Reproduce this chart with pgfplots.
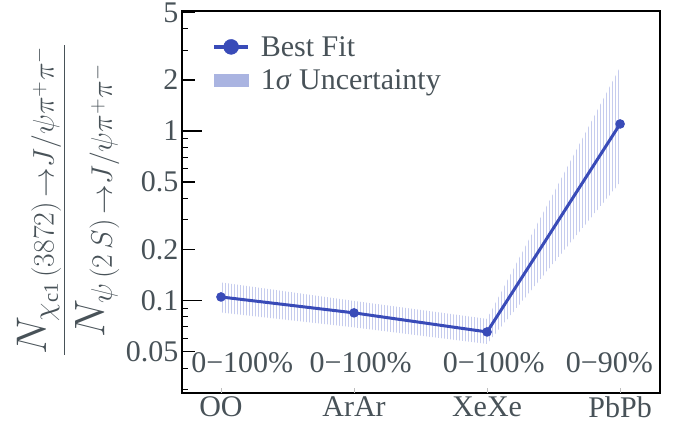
\documentclass[border=0pt]{standalone}
\usepackage{fontspec}
\setmainfont{Liberation Serif}
\usepackage{pgfplots}
\pgfplotsset{compat=1.18}
\usetikzlibrary{patterns}
\DeclareMathSizes{24.88}{24.88}{16.5}{12}
\definecolor{fitc}{RGB}{57,75,184}
\definecolor{bandc}{RGB}{198,204,238}
\definecolor{bandleg}{RGB}{170,180,225}
\definecolor{txt}{RGB}{72,82,88}
\begin{document}
\begin{tikzpicture}
\begin{axis}[
  scale only axis, width=478pt, height=382pt,
  ymode=log, ymin=0.0285, ymax=5.1,
  xmin=-0.293, xmax=3.30,
  xtick=\empty,
  extra x ticks={0,1,2,3},
  extra x tick labels={OO,ArAr,XeXe,PbPb},
  extra x tick style={major tick length=5pt, tick style={draw=gray!50, line width=0.6pt}},
  ytick={0.05,0.2,0.5,2,5},
  yticklabels={0.05,0.2,0.5,2,5},
  extra y ticks={0.1,1},
  extra y tick labels={0.1,1},
  extra y tick style={major tick length=20pt},
  minor ytick={0.03,0.04,0.06,0.07,0.08,0.09,0.3,0.4,0.6,0.7,0.8,0.9,3,4},
  major tick length=13pt, minor tick length=6pt,
  tick align=inside, ytick pos=left, xtick pos=bottom,
  tick style={black, line width=1.2pt},
  minor tick style={line width=1pt},
  axis line style={line width=1.3pt},
  tick label style={text=txt, font=\fontsize{30}{34}\selectfont},
  /pgf/number format/assume math mode=true,
  clip=false,
  legend style={draw=none, fill=none, at={(axis description cs:0.059,0.945)}, anchor=north west,
    font=\fontsize{30}{35}\selectfont, text=txt, row sep=8pt, inner sep=2pt,
    /tikz/every odd column/.append style={column sep=9pt}},
  legend cell align=left,
]
\addplot[draw=none, pattern=vertical lines, pattern color=bandc, forget plot]
  coordinates {(0,0.128) (1,0.0995) (2,0.078) (3,2.38) (3,0.497) (2,0.0555) (1,0.0695) (0,0.085)} -- cycle;
\addplot[fitc, line width=3pt, mark=*, mark size=3.2pt, forget plot]
  coordinates {(0,0.105) (1,0.0846) (2,0.0653) (3,1.10)};
\addlegendimage{legend image code/.code={\draw[fitc, line width=3.5pt] (0pt,0pt) -- (34pt,0pt); \fill[fitc] (17pt,0pt) circle (7.5pt);}}
\addlegendentry{Best Fit}
\addlegendimage{legend image code/.code={\fill[bandleg] (0pt,-6pt) rectangle (34pt,6pt);}}
\addlegendentry{1\textit{σ} Uncertainty}
\node[anchor=base, text=txt, font=\fontsize{30}{34}\selectfont] at (axis cs:0.16,0.0375) {0−100\%};
\node[anchor=base, text=txt, font=\fontsize{30}{34}\selectfont] at (axis cs:1.05,0.0375) {0−100\%};
\node[anchor=base, text=txt, font=\fontsize{30}{34}\selectfont] at (axis cs:2.05,0.0375) {0−100\%};
\node[anchor=base, text=txt, font=\fontsize{30}{34}\selectfont] at (axis cs:2.92,0.0375) {0−90\%};
\end{axis}
\node[rotate=90, scale=1.72, transform shape, text=txt, font=\fontsize{24.88}{30}\selectfont] at (-114pt,193pt)
  {$\displaystyle\frac{N_{\chi_{\mathrm{c1}}\,(3872)\,\to J/\psi\pi^{+}\pi^{-}}}{N_{\psi\,(2\,S)\,\to J/\psi\pi^{+}\pi^{-}}}$};
\pgfresetboundingbox
\path[use as bounding box] (-182pt,-37pt) rectangle (500pt,393pt);
\end{tikzpicture}
\end{document}
